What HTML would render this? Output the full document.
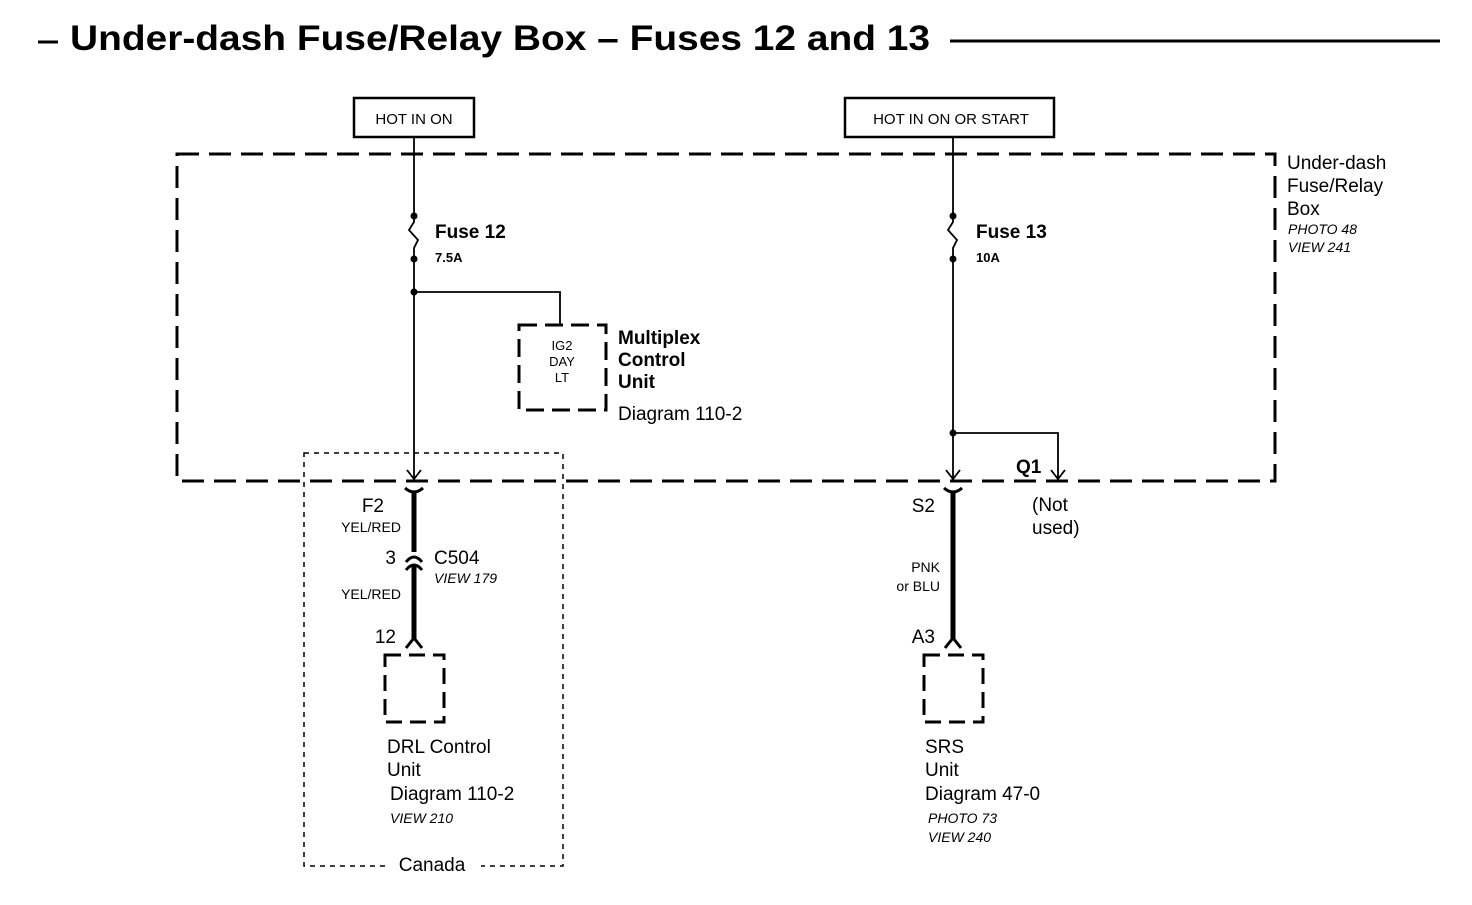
<!DOCTYPE html>
<html><head><style>
body{margin:0;background:#fff;}
svg text{font-family:"Liberation Sans",sans-serif;fill:#000;}
</style></head><body>
<svg width="1472" height="900" xmlns="http://www.w3.org/2000/svg">
<rect width="1472" height="900" fill="#fff"/>
<line x1="38" y1="42" x2="58" y2="42" stroke="#000" stroke-width="3"/>
<text x="70" y="50" font-size="35" font-weight="bold" textLength="860" lengthAdjust="spacingAndGlyphs">Under-dash Fuse/Relay Box – Fuses 12 and 13</text>
<line x1="950" y1="41" x2="1440" y2="41" stroke="#000" stroke-width="3"/>

<rect x="354" y="98" width="120" height="39" fill="none" stroke="#000" stroke-width="2.5"/>
<text x="414" y="124" font-size="15" text-anchor="middle">HOT IN ON</text>
<rect x="845" y="98" width="209" height="39" fill="none" stroke="#000" stroke-width="2.5"/>
<text x="951" y="124" font-size="15" text-anchor="middle">HOT IN ON OR START</text>

<rect x="177" y="154" width="1098" height="327" fill="none" stroke="#000" stroke-width="3" stroke-dasharray="22,10"/>
<text x="1287" y="169" font-size="19">Under-dash</text>
<text x="1287" y="192" font-size="19">Fuse/Relay</text>
<text x="1287" y="215" font-size="19">Box</text>
<text x="1288" y="234" font-size="14" font-style="italic">PHOTO 48</text>
<text x="1288" y="252" font-size="14" font-style="italic">VIEW 241</text>

<g stroke="#000" fill="none" stroke-width="1.8">
<line x1="414" y1="137" x2="414" y2="216"/>
<path d="M414 216 L414 222 L409 230 L418 240 L414 248 L414 259"/>
<line x1="414" y1="259" x2="414" y2="478"/>
<polyline points="414,292 560,292 560,325"/>
<path d="M407 470 L414 479 L421 470"/>
<line x1="953" y1="137" x2="953" y2="216"/>
<path d="M953 216 L953 222 L948 230 L957 240 L953 248 L953 259"/>
<line x1="953" y1="259" x2="953" y2="478"/>
<polyline points="953,433 1058,433 1058,478"/>
<path d="M946 470 L953 479 L960 470"/>
<path d="M1051 470 L1058 479 L1065 470"/>
</g>
<g fill="#000">
<circle cx="414" cy="216" r="3.5"/><circle cx="414" cy="259" r="3.5"/><circle cx="414" cy="292" r="3.5"/>
<circle cx="953" cy="216" r="3.5"/><circle cx="953" cy="259" r="3.5"/><circle cx="953" cy="433" r="3.5"/>
</g>
<text x="435" y="238" font-size="19" font-weight="bold">Fuse 12</text>
<text x="435" y="262" font-size="13" font-weight="bold">7.5A</text>
<text x="976" y="238" font-size="19" font-weight="bold">Fuse 13</text>
<text x="976" y="262" font-size="13" font-weight="bold">10A</text>

<rect x="519" y="325" width="87" height="85" fill="none" stroke="#000" stroke-width="3" stroke-dasharray="18,8"/>
<text x="562" y="350" font-size="13" text-anchor="middle">IG2</text>
<text x="562" y="366" font-size="13" text-anchor="middle">DAY</text>
<text x="562" y="382" font-size="13" text-anchor="middle">LT</text>
<text x="618" y="344" font-size="19" font-weight="bold">Multiplex</text>
<text x="618" y="366" font-size="19" font-weight="bold">Control</text>
<text x="618" y="388" font-size="19" font-weight="bold">Unit</text>
<text x="618" y="420" font-size="19">Diagram 110-2</text>

<text x="1016" y="473" font-size="19" font-weight="bold">Q1</text>
<text x="1032" y="511" font-size="19">(Not</text>
<text x="1032" y="534" font-size="19">used)</text>

<rect x="304" y="453" width="259" height="413" fill="none" stroke="#000" stroke-width="1.5" stroke-dasharray="5,5"/>
<rect x="385" y="853" width="96" height="20" fill="#fff"/>
<text x="432" y="871" font-size="19" text-anchor="middle">Canada</text>

<g stroke="#000" fill="none">
<line x1="414" y1="493" x2="414" y2="552" stroke-width="5"/>
<path d="M405 488 Q414 496 423 488" stroke-width="3"/>
<path d="M406 562 Q414 552 422 562" stroke-width="3"/>
<line x1="414" y1="566" x2="414" y2="640" stroke-width="5"/>
<path d="M406 570 Q414 560 422 570" stroke-width="3"/>
<path d="M406 648 L414 638 L422 648" stroke-width="3"/>
<line x1="953" y1="493" x2="953" y2="640" stroke-width="5"/>
<path d="M944 488 Q953 496 962 488" stroke-width="3"/>
<path d="M945 648 L953 638 L961 648" stroke-width="3"/>
</g>
<text x="384" y="512" font-size="19" text-anchor="end">F2</text>
<text x="401" y="532" font-size="14" text-anchor="end">YEL/RED</text>
<text x="396" y="564" font-size="19" text-anchor="end">3</text>
<text x="434" y="564" font-size="19">C504</text>
<text x="434" y="583" font-size="14" font-style="italic">VIEW 179</text>
<text x="401" y="599" font-size="14" text-anchor="end">YEL/RED</text>
<text x="396" y="643" font-size="19" text-anchor="end">12</text>

<text x="935" y="512" font-size="19" text-anchor="end">S2</text>
<text x="940" y="572" font-size="14" text-anchor="end">PNK</text>
<text x="940" y="591" font-size="14" text-anchor="end">or BLU</text>
<text x="935" y="643" font-size="19" text-anchor="end">A3</text>

<rect x="385" y="655" width="59" height="67" fill="none" stroke="#000" stroke-width="3" stroke-dasharray="16,8"/>
<rect x="924" y="655" width="59" height="67" fill="none" stroke="#000" stroke-width="3" stroke-dasharray="16,8"/>
<text x="387" y="753" font-size="19">DRL Control</text>
<text x="387" y="776" font-size="19">Unit</text>
<text x="390" y="800" font-size="19">Diagram 110-2</text>
<text x="390" y="823" font-size="14" font-style="italic">VIEW 210</text>
<text x="925" y="753" font-size="19">SRS</text>
<text x="925" y="776" font-size="19">Unit</text>
<text x="925" y="800" font-size="19">Diagram 47-0</text>
<text x="928" y="823" font-size="14" font-style="italic">PHOTO 73</text>
<text x="928" y="842" font-size="14" font-style="italic">VIEW 240</text>
</svg>
</body></html>
